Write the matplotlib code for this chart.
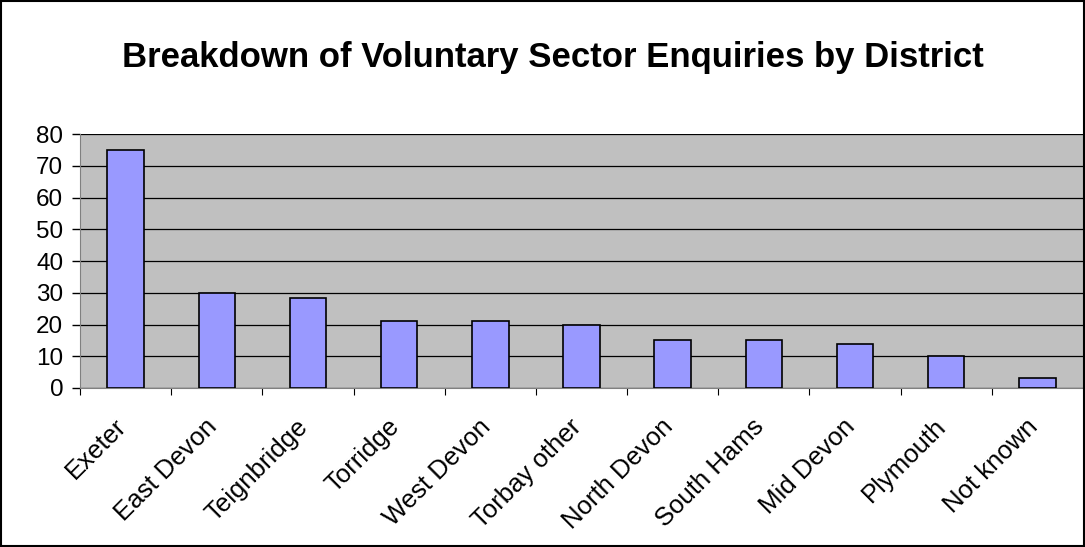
import matplotlib.pyplot as pyplot
import matplotlib.transforms as transforms
import numpy as np

pyplot.rcParams['font.family'] = ['Liberation Sans', 'DejaVu Sans']

districts = ['Exeter', 'East Devon', 'Teignbridge', 'Torridge', 'West Devon',
             'Torbay other', 'North Devon', 'South Hams', 'Mid Devon',
             'Plymouth', 'Not known']
enquiries = [75, 30, 28.5, 21, 21, 20, 15, 15, 14, 10, 3]

fig = pyplot.figure(figsize=(10.85, 5.47), dpi=100)
ax = fig.add_axes([80 / 1085, 1 - 388 / 547, (1083 - 80) / 1085, (388 - 134) / 547])

x = np.arange(len(districts))
ax.set_facecolor('#c0c0c0')
ax.bar(x, enquiries, width=0.4, color='#9999ff', edgecolor='black', linewidth=1.2, zorder=3)

ax.set_xlim(-0.5, len(districts) - 0.5)
ax.set_ylim(0, 80)
ax.set_yticks(np.arange(0, 81, 10))
ax.yaxis.grid(True, color='black', linewidth=0.9, zorder=1)
ax.tick_params(axis='y', labelsize=17.5, length=6, width=1, direction='out', pad=6)

ax.set_xticks(x - 0.5, minor=False)
ax.set_xticks(x, minor=True)
ax.set_xticklabels([])
ax.set_xticklabels(districts, minor=True, rotation=45, ha='right', rotation_mode='anchor', fontsize=18.5)
ax.tick_params(axis='x', which='major', length=5, direction='out')
ax.tick_params(axis='x', which='minor', length=0, pad=19)
shift = transforms.ScaledTranslation(-12 / 100, 0, fig.dpi_scale_trans)
for lbl in ax.get_xticklabels(minor=True):
    lbl.set_transform(lbl.get_transform() + shift)

for side in ['top', 'right']:
    ax.spines[side].set_visible(False)
ax.spines['left'].set_color('#808080')
ax.spines['bottom'].set_color('#808080')

fig.text(553 / 1085, 1 - 58 / 547, 'Breakdown of Voluntary Sector Enquiries by District',
         ha='center', va='center', fontsize=25, fontweight='bold')

fig.patches.append(pyplot.Rectangle((0.001, 0.001), 0.998, 0.997, transform=fig.transFigure,
                                    fill=False, edgecolor='black', linewidth=1.5))

fig.savefig('out.png', dpi=100)
